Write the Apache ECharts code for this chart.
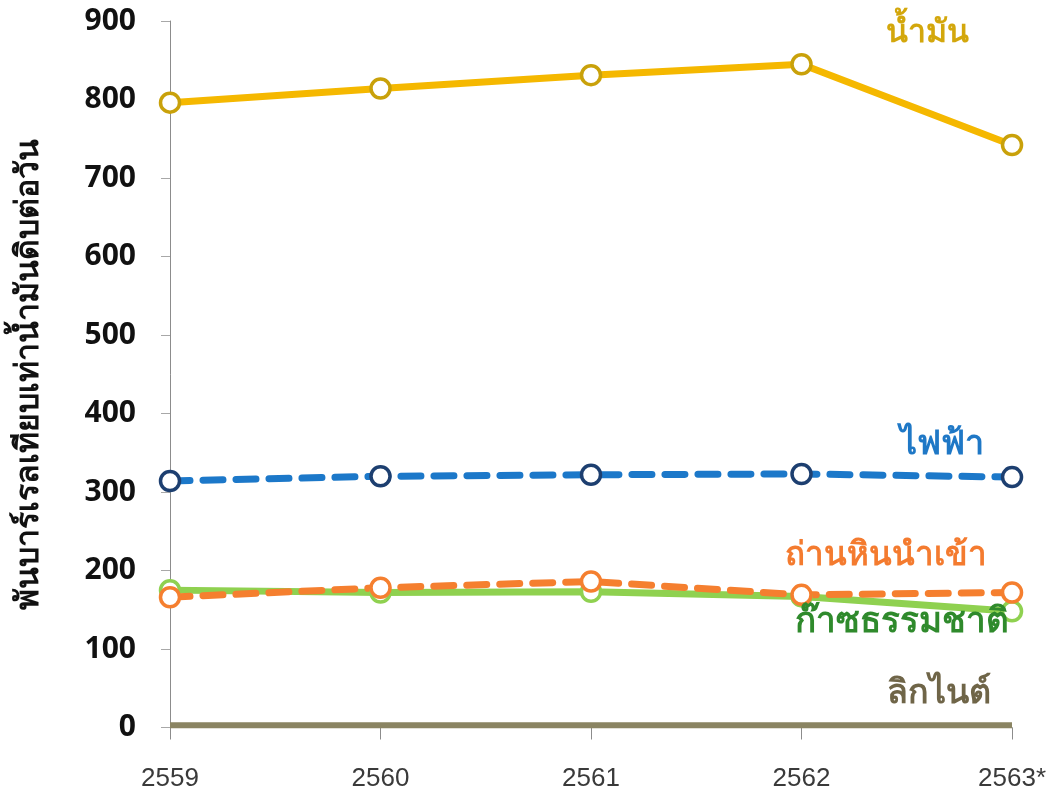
<!DOCTYPE html>
<html>
<head>
<meta charset="utf-8">
<script src="https://cdn.jsdelivr.net/npm/echarts@6/dist/echarts.min.js"></script>
<style>
  html, body { margin: 0; padding: 0; background: #fff; }
  #chart { width: 1049px; height: 798px; }
</style>
</head>
<body>
<div id="chart"></div>
<script>
// Years (2563 is preliminary)
const years = ['2559', '2560', '2561', '2562', '2563*'];
const yTicks = [0, 100, 200, 300, 400, 500, 600, 700, 800, 900];

// Energy consumption, thousand barrels of oil equivalent per day
const oil = [796, 814, 831, 845, 742];
const electricity = [314, 320, 322, 323, 319];
const coalImported = [166, 178, 186, 169, 172];
const naturalGas = [175, 172, 173, 167, 148];
const lignite = [3, 3, 3, 3, 3];

const names = {
  oil: 'น้ำมัน',
  electricity: 'ไฟฟ้า',
  coal: 'ถ่านหินนำเข้า',
  gas: 'ก๊าซธรรมชาติ',
  lignite: 'ลิกไนต์'
};
const yAxisTitle = 'พันบาร์เรลเทียบเท่าน้ำมันดิบต่อวัน';

const thaiFont = '"Noto Sans", "DejaVu Sans", sans-serif';

function lineSeries(name, data, lineColor, markerColor, dashed) {
  return {
    name: name,
    type: 'line',
    data: data,
    symbol: 'circle',
    symbolSize: 19,
    showSymbol: true,
    lineStyle: {
      color: lineColor,
      width: 7,
      type: dashed ? [20, 13] : 'solid',
      cap: 'round'
    },
    itemStyle: {
      color: '#ffffff',
      borderColor: markerColor,
      borderWidth: 3.5
    },
    z: 3
  };
}

function seriesText(x, y, text, color, size) {
  return {
    type: 'text', x: x, y: y, z: 10,
    style: {
      text: text, fill: color,
      font: 'bold ' + size + 'px ' + thaiFont,
      textAlign: 'left', textVerticalAlign: 'middle'
    }
  };
}

const chart = echarts.init(document.getElementById('chart'));
chart.setOption({
  animation: false,
  backgroundColor: '#ffffff',
  grid: { left: 170, right: 36, top: 21, bottom: 70.5 },
  xAxis: {
    type: 'category',
    data: years,
    boundaryGap: false,
    axisLine: { show: true, lineStyle: { color: '#8c8c8c', width: 1 } },
    axisTick: { show: true, alignWithLabel: true, length: 12, lineStyle: { color: '#8c8c8c' } },
    axisLabel: {
      color: '#3a3a3a',
      fontSize: 26,
      fontFamily: '"Liberation Sans", Arial, sans-serif',
      margin: 38
    },
    splitLine: { show: false }
  },
  yAxis: {
    type: 'value',
    min: yTicks[0],
    max: yTicks[yTicks.length - 1],
    interval: 100,
    axisLine: { show: true, lineStyle: { color: '#8c8c8c', width: 1 } },
    axisTick: { show: true, inside: false, length: 9, lineStyle: { color: '#a8a8a8' } },
    axisLabel: {
      color: '#111111',
      fontSize: 30,
      fontWeight: 'bold',
      fontFamily: '"Open Sans", "Noto Sans", sans-serif',
      margin: 34
    },
    splitLine: { show: false },
    name: yAxisTitle,
    nameLocation: 'middle',
    nameGap: 125,
    nameRotate: 90,
    nameTextStyle: {
      color: '#111111',
      fontSize: 32,
      fontWeight: 'bold',
      fontFamily: thaiFont
    }
  },
  series: [
    {
      name: names.lignite,
      type: 'line',
      data: lignite,
      showSymbol: false,
      lineStyle: { color: '#8a8462', width: 6 },
      z: 2
    },
    lineSeries(names.gas, naturalGas, '#8fd150', '#8fd150', false),
    lineSeries(names.coal, coalImported, '#f57f2f', '#f57f2f', true),
    lineSeries(names.electricity, electricity, '#1c78c9', '#1d3f70', true),
    lineSeries(names.oil, oil, '#f5b800', '#c9a10a', false)
  ],
  graphic: [
    seriesText(886, 33, names.oil, '#d3a70c', 32),
    seriesText(900, 444, names.electricity, '#1f78c6', 34),
    seriesText(785, 556, names.coal, '#f47b2f', 33),
    seriesText(795, 622, names.gas, '#2f8a2c', 35),
    seriesText(887, 693, names.lignite, '#6f6548', 34)
  ]
});
</script>
</body>
</html>
